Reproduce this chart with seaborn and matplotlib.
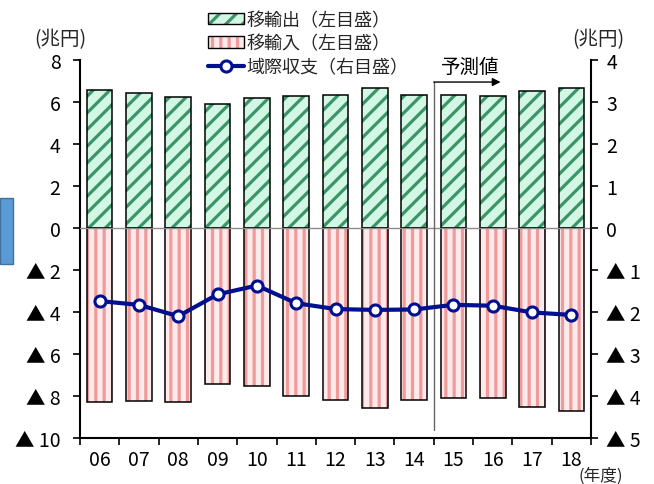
import matplotlib
matplotlib.use("Agg")
import matplotlib.pyplot as plt
import seaborn as sns
import numpy as np
from matplotlib.patches import Rectangle, Patch
from matplotlib.lines import Line2D

# Fiscal years (two-digit) and values in trillion yen
years = ["06", "07", "08", "09", "10", "11", "12", "13", "14", "15", "16", "17", "18"]
exports = [6.59, 6.43, 6.22, 5.92, 6.19, 6.30, 6.33, 6.67, 6.33, 6.33, 6.30, 6.54, 6.68]
imports = [-8.27, -8.22, -8.27, -7.41, -7.52, -8.02, -8.19, -8.57, -8.19, -8.11, -8.11, -8.51, -8.73]
balance = [-1.74, -1.83, -2.10, -1.58, -1.37, -1.79, -1.93, -1.95, -1.94, -1.83, -1.85, -2.01, -2.07]

left_ticks = list(range(-10, 9, 2))
right_ticks = list(range(-5, 5))

EXP_FACE, EXP_HATCH = "#d2f7e4", "#3c9468"
IMP_FACE, IMP_HATCH = "#fdeaec", "#f09a9a"
LINE_C = "#00108f"

sns.set_theme(style="white")
plt.rcParams["font.family"] = ["Noto Sans CJK JP", "DejaVu Sans"]
plt.rcParams["hatch.linewidth"] = 2.3

W, H = 654, 485
fig = plt.figure(figsize=(W / 100, H / 100), dpi=100)
ax = fig.add_axes([80 / W, 46 / H, 511 / W, 378 / H])

sns.barplot(x=years, y=exports, order=years, color=EXP_FACE, saturation=1,
            width=0.65, errorbar=None, ax=ax)
sns.barplot(x=years, y=imports, order=years, color=IMP_FACE, saturation=1,
            width=0.65, errorbar=None, ax=ax)

bars = list(ax.patches)
for i, p in enumerate(bars):
    if i < len(years):
        p.set_facecolor(EXP_FACE); p.set_edgecolor(EXP_HATCH); p.set_hatch("//")
    else:
        p.set_facecolor(IMP_FACE); p.set_edgecolor(IMP_HATCH); p.set_hatch("||")
    p.set_linewidth(0)
for p in bars:
    ax.add_patch(Rectangle(p.get_xy(), p.get_width(), p.get_height(), fill=False,
                           edgecolor="black", lw=1.1, zorder=p.get_zorder() + 0.1))

ax.axhline(0, color="#8c8c8c", lw=1.0, zorder=5)

# forecast marker
ax.plot([8.5, 8.5], [6.95, -9.6], color="#666666", lw=1.0, zorder=6, clip_on=False)
ax.annotate("", xy=(10.2, 6.95), xytext=(8.5, 6.95),
            arrowprops=dict(arrowstyle="-|>", color="black", lw=1.0,
                            mutation_scale=12, shrinkA=0, shrinkB=0), zorder=6)
ax.text(9.42, 7.7, "予測値", ha="center", va="center", fontsize=14, color="black")

ax.set_ylim(-10, 8)
ax.set_yticks(left_ticks)
ax.set_yticklabels([f"▲ {abs(v)}" if v < 0 else str(v) for v in left_ticks])
ax.set_ylabel("")
ax.set_xlabel("")

ax2 = ax.twinx()
sns.pointplot(x=years, y=balance, order=years, ax=ax2, color=LINE_C, markers="o",
              linestyles="-", errorbar=None, markersize=8, markerfacecolor="white",
              markeredgecolor=LINE_C, markeredgewidth=2.2, linewidth=3)
ax2.set_ylim(-5, 4)
ax2.set_yticks(right_ticks)
ax2.set_yticklabels([f"▲ {abs(v)}" if v < 0 else str(v) for v in right_ticks])
ax2.set_ylabel("")
ax2.set_xlabel("")

ax.set_xlim(-0.5, 12.5)
ax.set_xticks(np.arange(-0.5, 13, 1))
ax.set_xticklabels([])
ax.set_xticks(range(len(years)), minor=True)
ax.set_xticklabels(years, minor=True)
ax2.set_xlim(-0.5, 12.5)

for a in (ax, ax2):
    for s in a.spines.values():
        s.set_visible(False)
ax.spines["left"].set_visible(True)
ax.spines["bottom"].set_visible(True)
ax2.spines["right"].set_visible(True)
for s in (ax.spines["left"], ax.spines["bottom"], ax2.spines["right"]):
    s.set_color("black"); s.set_linewidth(1.5)

ax.tick_params(axis="y", direction="out", length=5, width=1.2, left=True,
               labelsize=14, pad=9, colors="black")
ax.tick_params(axis="x", which="major", direction="out", length=5, width=1.2,
               bottom=True, colors="black")
ax.tick_params(axis="x", which="minor", length=0, labelsize=14, pad=8, labelcolor="black")
ax2.tick_params(axis="y", direction="out", length=5, width=1.2, right=True,
                labelsize=14, pad=6, colors="black")
ax.grid(False); ax2.grid(False)

fig.text(60 / W, 1 - 40 / H, "(兆円)", ha="center", va="center", fontsize=14)
fig.text(598 / W, 1 - 40 / H, "(兆円)", ha="center", va="center", fontsize=14)
fig.text(601 / W, 1 - 476 / H, "(年度)", ha="center", va="center", fontsize=12)

handles = [
    (Patch(facecolor=EXP_FACE, edgecolor=EXP_HATCH, hatch="//", lw=0),
     Patch(fill=False, edgecolor="black", lw=1.0)),
    (Patch(facecolor=IMP_FACE, edgecolor=IMP_HATCH, hatch="||", lw=0),
     Patch(fill=False, edgecolor="black", lw=1.0)),
    Line2D([], [], color=LINE_C, lw=3, marker="o", markersize=8,
           markerfacecolor="white", markeredgecolor=LINE_C, markeredgewidth=2.2),
]
labels = ["移輸出（左目盛）", "移輸入（左目盛）", "域際収支（右目盛）"]
fig.legend(handles, labels, loc="upper left", bbox_to_anchor=(208 / W, 1 - 12 / H),
           frameon=False, fontsize=13, handlelength=2.0, handleheight=0.6,
           handletextpad=0.15, labelspacing=0.3, borderaxespad=0, borderpad=0)

fig.add_artist(Rectangle((0, (H - 265) / H), 13 / W, 66 / H, transform=fig.transFigure,
                         facecolor="#5b9bd5", edgecolor="#41719c", lw=1))

fig.savefig("out.png", dpi=100)
